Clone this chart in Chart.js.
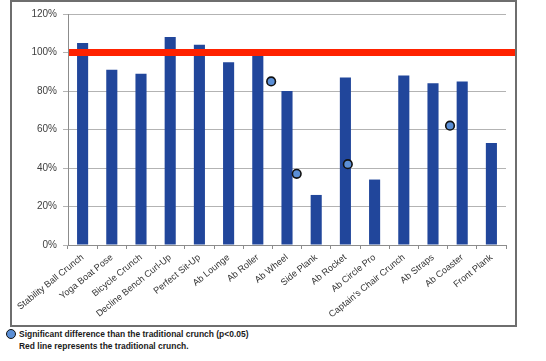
<!DOCTYPE html>
<html>
<head>
<meta charset="utf-8">
<script src="https://cdn.jsdelivr.net/npm/chart.js@4.4.1/dist/chart.umd.min.js"></script>
<style>
  body { margin: 0; background: #fff; width: 546px; height: 361px; position: relative; overflow: hidden; }
  #box { position: absolute; left: 10px; top: 0; width: 507px; height: 327px; border: 2px solid #6e6e6e; box-sizing: border-box; }
  #box canvas { display: block; }
  .note { position: absolute; left: 19px; font-family: "Liberation Sans", sans-serif; font-weight: bold; font-size: 9.5px; color: #1a1a1a; white-space: nowrap; transform: scaleX(0.89); transform-origin: left center; }
  .sig-icon { position: absolute; left: 6px; top: 329px; width: 8px; height: 8px; border-radius: 50%; background: #5b8fd6; border: 1.5px solid #111; }
</style>
</head>
<body>
<div id="box"><canvas id="chart" width="503" height="323"></canvas></div>
<span class="sig-icon"></span>
<div class="note" style="top:328px">Significant difference than the traditional crunch (p&lt;0.05)</div>
<div class="note" style="top:340px">Red line represents the traditional crunch.</div>
<script>
// exercises, muscle activity relative to the traditional crunch (%)
const exercises = [
    "Stability Ball Crunch", "Yoga Boat Pose", "Bicycle Crunch", "Decline Bench Curl-Up",
    "Perfect Sit-Up", "Ab Lounge", "Ab Roller", "Ab Wheel", "Side Plank", "Ab Rocket",
    "Ab Circle Pro", "Captain's Chair Crunch", "Ab Straps", "Ab Coaster", "Front Plank"
];
const activity = [105, 91, 89, 108, 104, 95, 99, 80, 26, 87, 34, 88, 84, 85, 53];

// significance markers (p<0.05)
const sigExercises = ["Ab Roller", "Ab Wheel", "Ab Rocket", "Ab Coaster"];
const sigValues = [85, 37, 42, 62];

// traditional crunch reference
const crunchLevel = 100;

const yMin = 0;
const yMax = 120;
const yStep = 20;

const markerShift = 0.38;
const sigPoints = sigExercises.map((name, i) => ({
    x: exercises.indexOf(name) + markerShift,
    y: sigValues[i]
}));

// red reference line, runs to the right border
const crunchLine = {
    id: "crunchLine",
    afterDatasetsDraw(chart) {
        const y = chart.scales.y.getPixelForValue(crunchLevel);
        const c = chart.ctx;
        c.save();
        c.strokeStyle = "#ff2200";
        c.lineWidth = 7;
        c.beginPath();
        c.moveTo(chart.chartArea.left + 1, y);
        c.lineTo(chart.width, y);
        c.stroke();
        c.restore();
    }
};

const ctx = document.getElementById("chart");

new Chart(ctx, {
    type: "bar",
    data: {
        labels: exercises,
        datasets: [{
            data: activity,
            backgroundColor: "#21469b",
            barPercentage: 0.38,
            categoryPercentage: 1,
            grouped: false,
            order: 2
        }, {
            type: "scatter",
            xAxisID: "x2",
            data: sigPoints,
            pointStyle: "circle",
            pointRadius: 4.3,
            pointBackgroundColor: "#5b8fd6",
            pointBorderColor: "#111",
            pointBorderWidth: 1.6,
            order: 1
        }]
    },
    options: {
        responsive: false,
        animation: false,
        layout: { padding: { top: 9, right: 9, left: 0, bottom: 0 } },
        plugins: {
            legend: { display: false },
            tooltip: { enabled: false }
        },
        scales: {
            x: {
                grid: { drawOnChartArea: false, tickLength: 4, color: "#8c8c8c" },
                border: { color: "#8c8c8c" },
                ticks: {
                    autoSkip: false,
                    minRotation: 39,
                    maxRotation: 39,
                    padding: 3,
                    color: "#333",
                    font: { family: "'Liberation Sans', sans-serif", size: 9.2 }
                },
                afterFit: s => { s.height = 80; }
            },
            x2: {
                type: "linear",
                display: false,
                min: -0.5,
                max: exercises.length - 0.5
            },
            y: {
                min: yMin,
                max: yMax,
                grid: { color: "#b3b3b3", tickLength: 5 },
                border: { color: "#8c8c8c" },
                ticks: {
                    stepSize: yStep,
                    padding: 6,
                    color: "#404040",
                    font: { family: "'Liberation Sans', sans-serif", size: 10 },
                    callback: v => v + "%"
                },
                afterFit: s => { s.width = 56; }
            }
        }
    },
    plugins: [crunchLine]
});
</script>
</body>
</html>
